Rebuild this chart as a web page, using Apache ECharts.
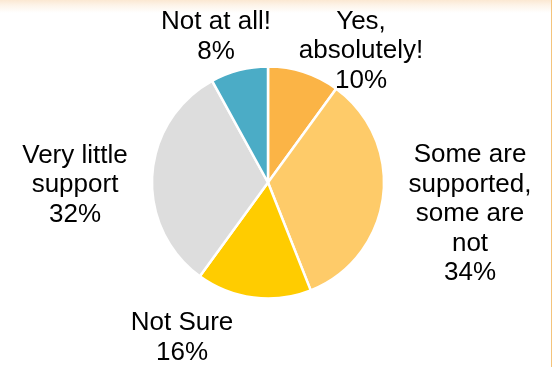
<!DOCTYPE html>
<html>
<head>
<meta charset="utf-8">
<script src="https://cdn.jsdelivr.net/npm/echarts@6/dist/echarts.min.js"></script>
<style>
  html, body { margin: 0; padding: 0; background: #fff; }
  #frame {
    position: relative; width: 552px; height: 367px; overflow: hidden;
    background: linear-gradient(to bottom, #fbe8d2 0px, #fdf3e8 5px, #ffffff 13px);
  }
  #frame::after {
    content: ""; position: absolute; top: 0; right: 0; width: 1px; height: 100%;
    background: #f4c47c;
  }
  #chart { position: absolute; left: 0; top: 0; width: 552px; height: 367px; }
</style>
</head>
<body>
<div id="frame"><div id="chart"></div></div>
<script>
// Survey answers, clockwise from 12 o'clock
const categories = [
  'Yes,\nabsolutely!',
  'Some are\nsupported,\nsome are\nnot',
  'Not Sure',
  'Very little\nsupport',
  'Not at all!'
];
const shares = [10, 34, 16, 32, 8];
const sliceColors = ['#fbb446', '#fecb69', '#ffcc00', '#dddddd', '#4bacc6'];

// label block centres (px), placed just outside the pie like a "best fit" layout
const labelAnchors = [
  [361, 51],
  [470, 214],
  [182, 338],
  [75, 185],
  [216, 37]
];

const chart = echarts.init(document.getElementById('chart'), null, { renderer: 'canvas' });

chart.setOption({
  backgroundColor: 'transparent',
  animation: false,
  series: [{
    type: 'pie',
    center: [268, 182.5],
    radius: 116,
    startAngle: 90,
    clockwise: true,
    data: categories.map((name, i) => ({
      name: name,
      value: shares[i],
      itemStyle: { color: sliceColors[i] }
    })),
    itemStyle: { borderColor: '#ffffff', borderWidth: 2.5 },
    label: {
      show: true,
      position: 'outside',
      formatter: p => p.name + '\n' + p.value + '%',
      fontFamily: 'Liberation Sans, Arial, sans-serif',
      fontSize: 26,
      lineHeight: 29.5,
      color: '#000000',
      align: 'center',
      overflow: 'none'
    },
    labelLine: { show: false },
    labelLayout: p => ({
      x: labelAnchors[p.dataIndex][0],
      y: labelAnchors[p.dataIndex][1],
      width: 200,
      align: 'center',
      verticalAlign: 'middle'
    }),
    emphasis: { disabled: true }
  }]
});
</script>
</body>
</html>
